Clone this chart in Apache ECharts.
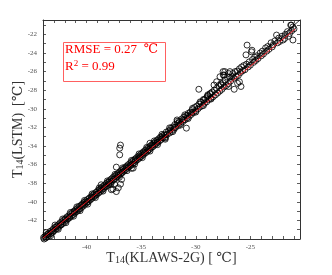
<!DOCTYPE html>
<html><head><meta charset="utf-8">
<script src="https://cdn.jsdelivr.net/npm/echarts@6/dist/echarts.min.js"></script>
<style>html,body{margin:0;padding:0;background:#fff}#c{width:332px;height:275px}</style>
</head><body><div id="c"></div>
<script>
// ---- data ----
const klaws = [
-43.95,-43.9,-43.82,-43.75,-43.66,-43.6,-43.5,-43.45,-43.36,-43.28,-43.2,-43.12,-43.05,-42.97,-42.9,-42.82,-42.74,-42.66,-42.58,-42.5,
-42.43,-42.35,-42.27,-42.2,-42.1,-42.03,-41.95,-41.87,-41.8,-41.72,-41.64,-41.55,-41.47,-41.4,-41.31,-41.24,-41.16,-41.08,-41.0,-40.92,
-40.85,-40.77,-40.7,-40.61,-40.53,-40.46,-40.38,-40.3,-40.22,-40.15,-40.07,-40.0,-39.92,-39.84,-39.76,-39.69,-39.6,-39.53,-39.45,-39.37,
-39.3,-39.22,-39.14,-39.06,-38.98,-38.9,-38.83,-38.75,-38.67,-38.6,-38.52,-38.44,-38.37,-38.29,-38.21,-38.13,-38.05,-37.98,-37.9,-37.82,
-37.75,-37.67,-37.6,-37.52,-37.44,-37.36,-37.28,-37.2,-37.13,-37.05,-36.97,-36.9,-36.82,-36.74,-36.66,-36.58,-36.5,-36.43,-36.35,-36.27,
-36.2,-36.12,-36.04,-35.96,-35.88,-35.8,-35.73,-35.65,-35.57,-35.49,-35.42,-35.34,-35.26,-35.18,-35.1,-35.03,-34.95,-34.87,-34.8,-34.72,
-34.64,-34.56,-34.48,-34.4,-34.33,-34.25,-34.17,-34.1,-34.02,-33.94,-33.86,-33.78,-33.7,-33.62,-33.55,-33.47,-33.4,-33.32,-33.24,-33.16,
-33.08,-33.0,
-36.97,-36.9,-36.97,-37.28,-36.8,-37.43,-37.6,-37.28,-36.9,-35.74,-35.9,-34.2,-37.74,-37.1,-38.67,-32.8,
-32.9,-32.8,-32.7,-32.62,-32.5,-32.4,-32.3,-32.22,-32.1,-32.0,-31.92,-31.85,-31.72,-31.7,-31.6,-31.5,-31.4,-31.3,-31.2,-31.1,
-31.0,-30.86,-30.9,-30.8,-30.7,-30.6,-30.5,-30.4,-30.3,-30.2,-30.1,-30.0,-29.9,-29.8,-29.72,-29.7,-29.6,-29.5,-29.4,-29.3,
-29.2,-29.1,-29.0,-28.9,-28.8,-28.7,-28.6,-28.5,-28.4,-28.33,-28.3,-28.2,-28.1,-28.0,-27.9,-27.8,-27.7,-27.7,-27.6,-27.5,
-27.4,-27.5,-27.4,-27.3,-27.2,-27.1,-27.0,-27.0,
-28.09,-27.78,-27.48,-27.33,-26.87,-26.7,-26.17,-25.86,-26.48,-26.0,-27.0,-28.64,-28.95,-29.26,
-26.9,-26.8,-26.6,-26.5,-26.4,-26.3,-26.2,-26.1,-26.0,-25.9,-25.8,-25.7,-25.6,-25.5,-25.4,-25.3,-25.35,-25.2,-25.1,-25.0,
-24.9,-24.85,-24.8,-24.7,-24.6,-24.5,-24.4,-24.3,-24.1,-24.0,-23.9,-23.8,-23.6,-23.5,-23.4,-23.3,-23.1,-23.0,-22.9,-22.75,
-22.6,-22.5,-22.4,-22.3,-22.1,-22.0,-21.85,-21.8,-21.6,-21.5,-21.4,-21.3,-21.24,-21.2,-21.1,-21.0,-21.1,
-43.7,-43.3,-42.9,-42.6,-42.2,-41.9,-41.5,-41.2,-40.9,-40.6,-40.2,-39.9,-39.5,-39.2,-38.85,-38.5,-38.1,-37.8,-37.4,-37.0,
-36.7,-36.3,-35.9,-35.6,-35.2,-34.9,-34.5,-34.2,-33.8,-33.5,-33.1,-32.8,-32.4,-32.1,-31.7,-31.4,-31.0,-30.7,-30.3,-30.0,
-29.6,-29.3,-28.9,-28.6,
-43.55,-43.15,-42.75,-42.35,-41.95,-41.55,-41.15,-40.75,-40.35,-39.95,-39.55,-39.15,-38.75,-38.35,-37.95,-37.55,-37.15,-36.75,-36.35,-35.95,
-35.55,-35.15,-34.75,-34.35,-33.95,-33.55,-33.15,-32.75,-32.35,-31.95,-31.55,-31.15,-30.75,-30.35
];
const lstm = [
-43.85,-44.0,-43.7,-43.9,-43.55,-43.75,-43.4,-43.6,-43.2,-43.42,-43.1,-43.3,-42.9,-43.1,-42.75,-42.95,-42.6,-42.85,-42.45,-42.62,
-42.25,-42.5,-42.15,-42.35,-41.95,-42.2,-41.8,-42.0,-41.62,-41.85,-41.5,-41.7,-41.3,-41.55,-41.15,-41.38,-41.0,-41.22,-40.85,-41.05,
-40.7,-40.92,-40.5,-40.76,-40.38,-40.6,-40.2,-40.45,-40.05,-40.28,-39.9,-40.12,-39.75,-39.98,-39.6,-39.82,-39.45,-39.65,-39.28,-39.5,
-39.12,-39.35,-38.98,-39.2,-38.8,-39.05,-38.66,-38.9,-38.5,-38.75,-38.35,-38.58,-38.2,-38.42,-38.05,-38.27,-37.88,-38.1,-37.72,-37.95,
-37.55,-37.8,-37.4,-37.62,-37.25,-37.5,-37.1,-37.33,-36.95,-37.18,-36.8,-37.02,-36.65,-36.88,-36.5,-36.7,-36.32,-36.55,-36.18,-36.4,
-36.02,-36.25,-35.88,-36.1,-35.7,-35.95,-35.55,-35.78,-35.4,-35.62,-35.25,-35.47,-35.1,-35.32,-34.95,-35.15,-34.78,-35.0,-34.62,-34.85,
-34.48,-34.7,-34.3,-34.55,-34.15,-34.38,-34.0,-34.22,-33.85,-34.08,-33.7,-33.92,-33.55,-33.75,-33.38,-33.6,-33.22,-33.45,-33.05,-33.3,
-32.92,-33.12,
-34.23,-33.9,-34.95,-36.27,-37.6,-38.14,-38.63,-38.9,-38.1,-36.38,-36.4,-33.7,-38.7,-38.5,-38.17,-33.27,
-32.8,-33.05,-32.5,-32.75,-32.4,-32.6,-32.1,-32.45,-31.95,-32.2,-31.7,-32.0,-31.2,-31.6,-31.8,-31.35,-31.6,-31.1,-31.4,-30.9,
-31.2,-32.08,-30.75,-31.0,-30.5,-30.8,-30.35,-30.6,-30.1,-30.4,-29.85,-30.2,-29.7,-30.0,-27.9,-29.5,-29.8,-29.3,-29.65,-29.0,
-29.4,-28.9,-29.25,-28.6,-29.0,-28.4,-28.85,-28.2,-28.7,-27.44,-28.0,-28.5,-27.8,-28.3,-27.5,-28.1,-27.44,-27.3,-27.9,-26.0,
-26.37,-27.2,-27.65,-26.9,-27.5,-26.6,-27.3,-26.2,
-27.09,-26.55,-26.37,-26.0,-26.0,-26.55,-27.26,-27.6,-27.9,-27.1,-27.6,-28.33,-28.7,-29.05,
-26.6,-27.0,-26.2,-26.7,-26.0,-26.5,-25.95,-26.4,-25.7,-26.1,-25.5,-25.9,-25.35,-25.8,-24.2,-23.15,-25.2,-25.5,-24.95,-25.3,
-23.87,-23.7,-24.7,-25.0,-24.45,-24.8,-24.3,-24.6,-24.0,-24.3,-23.8,-24.1,-23.45,-23.8,-23.3,-23.6,-22.9,-23.35,-23.1,-22.7,
-22.07,-22.9,-22.4,-22.75,-22.2,-22.6,-22.43,-22.0,-21.7,-22.2,-21.9,-21.0,-21.0,-21.6,-22.6,-21.4,-21.2,
-43.3,-43.65,-42.5,-42.95,-41.85,-42.25,-41.15,-41.55,-40.55,-40.95,-39.85,-40.25,-39.15,-39.55,-38.5,-38.85,-37.75,-38.15,-37.05,-37.35,
-36.35,-36.65,-35.55,-35.95,-34.85,-35.25,-34.15,-34.55,-33.45,-33.85,-32.75,-33.15,-32.05,-32.45,-31.35,-31.75,-30.65,-31.05,-29.95,-30.35,
-29.25,-29.65,-28.5,-28.95,
-43.5,-43.25,-42.7,-42.45,-41.9,-41.6,-41.1,-40.8,-40.3,-40.0,-39.5,-39.2,-38.7,-38.4,-37.9,-37.6,-37.1,-36.8,-36.3,-36.0,
-35.5,-35.2,-34.7,-34.4,-33.9,-33.6,-33.1,-32.8,-32.3,-32.0,-31.5,-31.2,-30.7,-30.4
];
const fitLine = [[-44, -43.9], [-20.9, -21.43]];
const oneToOne = [[-44, -44], [-20.45, -20.45]];
const xTickLabels = [-40, -35, -30, -25];
const yTickLabels = [-42, -40, -38, -36, -34, -32, -30, -28, -26, -24, -22];
const statsText = ['RMSE = 0.27  ℃', '0.99'];

const points = klaws.map((x, i) => [x, lstm[i]]);
const serif = '"Liberation Serif","DejaVu Serif",serif';
const axCol = '#333';

function baseAxis(pos, labels, isX) {
  return {
    type: 'value', min: -44, max: -20.45, interval: 1, position: pos,
    splitLine: { show: false },
    axisLine: { show: true, onZero: false, lineStyle: { color: axCol, width: 1 } },
    axisTick: { show: true, inside: true, length: 3, interval: 0, lineStyle: { color: axCol, width: 0.8 } },
    axisLabel: labels ? {
      show: true, interval: 0, margin: isX ? 5 : 6, fontFamily: serif, fontSize: 7, color: '#555',
      showMinLabel: true, showMaxLabel: true, hideOverlap: false,
      formatter: v => labels.includes(v) ? String(v) : ''
    } : { show: false }
  };
}

const richName = {
  a: { fontFamily: serif, fontSize: 14, color: '#333', lineHeight: 14, verticalAlign: 'top' },
  s: { fontFamily: serif, fontSize: 10, color: '#333', lineHeight: 10, padding: [10, 0, 0, 0], verticalAlign: 'bottom' }
};

const xMain = baseAxis('bottom', xTickLabels, true);
Object.assign(xMain, {
  name: '{a|T}{s|14}{a|(KLAWS-2G) [ ℃]}', nameLocation: 'middle', nameGap: 12, nameMoveOverlap: false,
  nameTextStyle: { rich: richName }
});
const yMain = baseAxis('left', yTickLabels, false);
Object.assign(yMain, {
  name: '{a|T}{s|14}{a|(LSTM)  [℃]}', nameLocation: 'middle', nameGap: 18, nameRotate: 90, nameMoveOverlap: false,
  nameTextStyle: { rich: richName }
});

const chart = echarts.init(document.getElementById('c'), null, { renderer: 'canvas' });
chart.setOption({
  animation: false,
  backgroundColor: '#fff',
  grid: { left: 43, right: 32, top: 20, bottom: 36, containLabel: false, outerBoundsMode: 'none' },
  xAxis: [xMain, Object.assign(baseAxis('top', null, true), { gridIndex: 0 })],
  yAxis: [yMain, Object.assign(baseAxis('right', null, false), { gridIndex: 0 })],
  series: [
    { type: 'scatter', data: points, symbol: 'circle', symbolSize: 6,
      itemStyle: { color: 'rgba(0,0,0,0)', borderColor: '#000', borderWidth: 1 }, z: 2 },
    { type: 'line', data: oneToOne, symbol: 'none', lineStyle: { color: '#000', width: 0.8 }, z: 3 },
    { type: 'line', data: fitLine, symbol: 'none', lineStyle: { color: '#e8141c', width: 1 }, z: 4 }
  ],
  graphic: [
    { type: 'rect', left: 61, top: 40, shape: { width: 102, height: 39 },
      style: { fill: 'none', stroke: '#ff6060', lineWidth: 1 } },
    { type: 'text', left: 65, top: 43,
      style: { text: statsText[0], fill: '#ff0000', font: '13px ' + serif } },
    { type: 'text', left: 65, top: 59,
      style: { text: '{r|R}{p|2}{r| = ' + statsText[1] + '}',
        rich: { r: { fontFamily: serif, fontSize: 13, fill: '#ff0000', color: '#ff0000', lineHeight: 14, verticalAlign: 'bottom' },
                p: { fontFamily: serif, fontSize: 9, fill: '#ff0000', color: '#ff0000', lineHeight: 8, verticalAlign: 'top' } } } }
  ]
});
</script></body></html>
